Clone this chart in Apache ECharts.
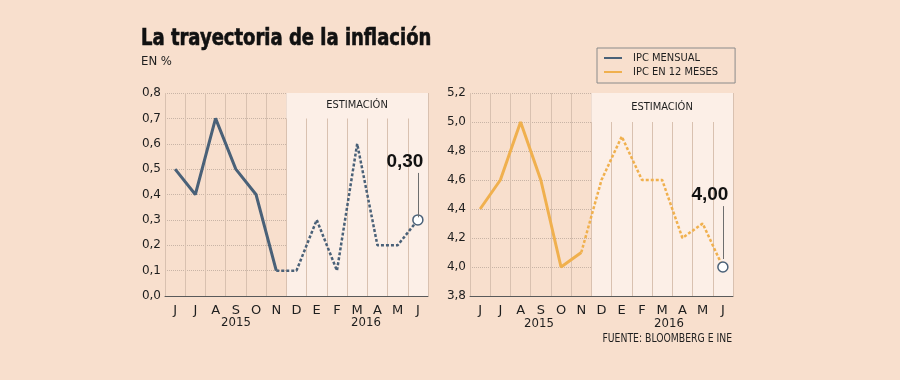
<!DOCTYPE html>
<html><head><meta charset="utf-8">
<script src="https://cdn.jsdelivr.net/npm/echarts@6/dist/echarts.min.js"></script>
<style>html,body{margin:0;padding:0;background:#f8dfcd;}#c{width:900px;height:380px;}</style>
</head><body><div id="c"></div>
<script>
const categories = ['jun-15','jul-15','ago-15','sep-15','oct-15','nov-15','dic-15','ene-16','feb-16','mar-16','abr-16','may-16','jun-16'];
const monthLabels = ['J','J','A','S','O','N','D','E','F','M','A','M','J'];
const yearLabels = ['2015','2016'];
const ipcMensual = [0.5,0.4,0.7,0.5,0.4,0.1,0.1,0.3,0.1,0.6,0.2,0.2,0.3];
const ipc12Meses = [4.4,4.6,5.0,4.6,4.0,4.1,4.6,4.9,4.6,4.6,4.2,4.3,4.0];
const lastRealIndex = 5;      // N 2015: last observed month
const estimationStart = 6;    // D 2015: first estimated month
const leftTicks = {min:0, max:0.8, interval:0.1, decimals:1};
const rightTicks = {min:3.8, max:5.2, interval:0.2, decimals:1};

const BG = '#f8dfcd', EST = '#fcefe7';
const DARK = '#4a6178', ORANGE = '#f0b04e';
const TXT = '#1e1e1e';
const NARROW = '"Liberation Sans Narrow","DejaVu Sans Condensed",sans-serif';
const SANS = '"DejaVu Sans",sans-serif';

const bandColors = categories.map((c,i)=> i>=estimationStart ? EST : 'rgba(0,0,0,0)');
const fmt = (v,d)=> v.toFixed(d).replace('.',',');

const chart = echarts.init(document.getElementById('c'), null, {renderer:'canvas'});

const G = [
  {left:165, top:93, width:263, height:203},
  {left:470, top:93, width:263, height:203}
];
const panels = [
  {vals:ipcMensual, t:leftTicks, col:DARK, name:'IPC MENSUAL', lead:[0.01,0.185]},
  {vals:ipc12Meses, t:rightTicks, col:ORANGE, name:'IPC EN 12 MESES', lead:[0.055,0.42]}
];
const grids = [], xAxes = [], yAxes = [], series = [];
panels.forEach((p,k)=>{
  const vals = p.vals, t = p.t, col = p.col;
  const g = G[k];
  const mainIdx = grids.length;
  grids.push({left:g.left, top:g.top, width:g.width, height:g.height, containLabel:false});
  const hdrH = g.height / ((t.max - t.min)/t.interval);
  const hdrIdx = grids.length;
  grids.push({left:g.left, top:g.top, width:g.width, height:hdrH, containLabel:false});
  xAxes.push({type:'category', gridIndex:mainIdx, data:categories, boundaryGap:true, z:0,
    axisLine:{show:true, lineStyle:{color:'#5a5a5a', width:1}},
    axisTick:{show:false},
    axisLabel:{interval:0, formatter:(v,i)=>monthLabels[i], color:TXT, fontSize:13, fontFamily:SANS, margin:8},
    splitLine:{show:true, interval:0, lineStyle:{color:'#d9c1b0', width:1}},
    splitArea:{show:true, interval:0, areaStyle:{color:bandColors}}});
  yAxes.push({type:'value', gridIndex:mainIdx, min:t.min, max:t.max, interval:t.interval,
    axisLine:{show:false}, axisTick:{show:false},
    axisLabel:{formatter:v=>fmt(v,t.decimals), color:TXT, fontSize:12, fontFamily:SANS, margin:4},
    splitLine:{show:true, lineStyle:{color:'#c8b4a6', width:1, type:[1,1]}}});
  xAxes.push({type:'category', gridIndex:hdrIdx, data:categories, boundaryGap:true, z:1,
    axisLine:{show:false}, axisTick:{show:false}, axisLabel:{show:false},
    splitLine:{show:false}, splitArea:{show:true, interval:0, areaStyle:{color:bandColors}}});
  yAxes.push({type:'value', gridIndex:hdrIdx, show:false, min:0, max:1});

  const solid = vals.map((v,i)=> i<=lastRealIndex ? v : null);
  const est = vals.map((v,i)=> i>=lastRealIndex ? (i===vals.length-1 ? {value:v, symbol:'circle', symbolSize:10,
      itemStyle:{color:'#ffffff', borderColor:DARK, borderWidth:1.5}} : v) : null);
  const lastI = vals.length-1, lastV = vals[lastI];
  series.push({name:p.name, type:'line', xAxisIndex:mainIdx, yAxisIndex:mainIdx, data:solid, symbol:'none',
    lineStyle:{color:col, width:3}, itemStyle:{color:col}, z:3, animation:false});
  series.push({name:p.name+' est', type:'line', xAxisIndex:mainIdx, yAxisIndex:mainIdx, data:est, symbol:'none', showSymbol:true,
    lineStyle:{color:col, width:2.5, type:[3,2]}, itemStyle:{color:col}, z:4, animation:false,
    markLine:{silent:true, symbol:['none','none'], animation:false,
      lineStyle:{color:'#6e6e6e', width:1, type:'solid'},
      label:{show:true, position:'end', formatter:fmt(lastV,2), fontSize:19, fontWeight:'bold', color:'#111',
        fontFamily:'"Liberation Sans",Arial,sans-serif', distance:2, offset:[-13,0]},
      data:[[{coord:[lastI, lastV + p.lead[0]]}, {coord:[lastI, lastV + p.lead[1]]}]]
    }
  });
});

const yearFont = '13px "DejaVu Sans Condensed",sans-serif';
const graphics = [
  {type:'text', x:141, y:28, scaleX:0.87, style:{text:'La trayectoria de la inflación', font:'bold 23px '+NARROW, fill:'#111', stroke:'#111', lineWidth:0.6}},
  {type:'text', x:141, y:55, style:{text:'EN %', font:'13px '+NARROW, fill:TXT}},
  {type:'text', x:236, y:323, style:{text:yearLabels[0], font:yearFont, fill:TXT, align:'center', verticalAlign:'middle'}},
  {type:'text', x:366, y:323, style:{text:yearLabels[1], font:yearFont, fill:TXT, align:'center', verticalAlign:'middle'}},
  {type:'text', x:539, y:324, style:{text:yearLabels[0], font:yearFont, fill:TXT, align:'center', verticalAlign:'middle'}},
  {type:'text', x:669, y:324, style:{text:yearLabels[1], font:yearFont, fill:TXT, align:'center', verticalAlign:'middle'}},
  {type:'text', x:732, y:339, scaleX:0.86, style:{text:'FUENTE: BLOOMBERG E INE', font:'12px '+NARROW, fill:TXT, align:'right', verticalAlign:'middle'}},
  {type:'text', x:357, y:105, z:10, style:{text:'ESTIMACIÓN', font:'11px '+NARROW, fill:TXT, align:'center', verticalAlign:'middle'}},
  {type:'text', x:662, y:107, z:10, style:{text:'ESTIMACIÓN', font:'11px '+NARROW, fill:TXT, align:'center', verticalAlign:'middle'}}
];

chart.setOption({
  backgroundColor:BG,
  animation:false,
  grid:grids, xAxis:xAxes, yAxis:yAxes, series:series,
  legend:{data:['IPC MENSUAL','IPC EN 12 MESES'], orient:'vertical', left:597, top:48,
    padding:[3,17,4,7], itemGap:0, itemWidth:18, itemHeight:2, icon:'rect',
    borderColor:'#8a8a8a', borderWidth:1, selectedMode:false,
    textStyle:{fontSize:11, fontFamily:NARROW, color:TXT, padding:[0,0,0,6], lineHeight:14}},
  graphic:graphics
});
</script></body></html>
